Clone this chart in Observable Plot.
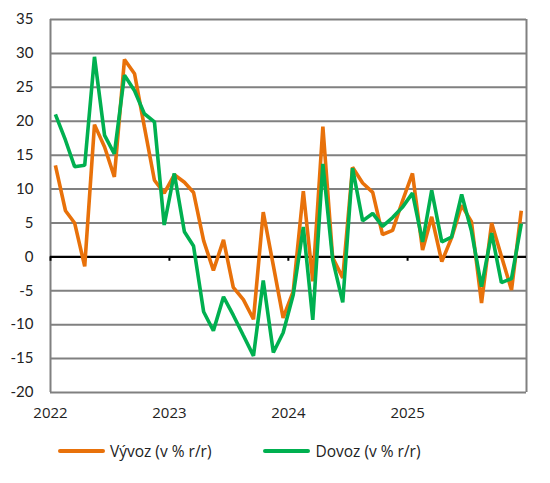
<!DOCTYPE html>
<html>
<head>
<meta charset="utf-8">
<script src="https://cdn.jsdelivr.net/npm/d3@7"></script>
<script src="https://cdn.jsdelivr.net/npm/@observablehq/plot@0.6"></script>
<style>
  body { margin: 0; background: #fff; }
  #chart { width: 550px; }
  .legend {
    display: flex; align-items: center; height: 42px;
    font-family: 'Open Sans', sans-serif; font-size: 15.5px; color: #222;
    padding-left: 58px;
  }
  .item { display: flex; align-items: center; margin-right: 52px; }
  .sw { width: 47px; height: 4px; border-radius: 2px; margin-right: 5px; }
</style>
</head>
<body>
<div id="chart"></div>
<script>
  /* ---- data (monthly, Jan 2022 – Dec 2025) ---- */
  const years = [2022, 2023, 2024, 2025];
  const seriesNames = ['Vývoz (v % r/r)', 'Dovoz (v % r/r)'];
  const seriesColors = ['#e8710a', '#00b050'];

  const vyvoz = [
    13.5, 6.8, 5.0, -1.4, 19.5, 16.2, 11.8, 29.1, 27.0, 19.2, 11.3, 9.4,
    12.1, 11.0, 9.5, 2.4, -2.0, 2.5, -4.5, -6.3, -9.2, 6.6, -1.3, -9.0,
    -5.1, 9.7, -3.6, 19.2, -0.1, -3.1, 13.2, 10.9, 9.5, 3.3, 3.9, 8.2,
    12.3, 1.0, 5.9, -0.7, 2.8, 7.6, 5.2, -6.8, 5.0, 0.1, -4.9, 6.8
  ];
  const dovoz = [
    21.0, 17.2, 13.3, 13.5, 29.5, 17.9, 15.2, 26.8, 24.5, 21.1, 19.9, 4.7,
    12.3, 3.7, 1.6, -8.1, -10.9, -5.9, -8.6, -11.6, -14.6, -3.5, -14.1, -11.2,
    -5.6, 4.4, -9.3, 13.7, -0.4, -6.7, 13.1, 5.3, 6.4, 4.5, 5.8, 7.3,
    9.4, 2.2, 9.8, 2.2, 2.9, 9.2, 3.8, -4.4, 3.5, -3.8, -3.2, 4.9
  ];
  const yTicks = [-20, -15, -10, -5, 0, 5, 10, 15, 20, 25, 30, 35];

  /* ---- build table ---- */
  const month = i => new Date(Date.UTC(years[0], i, 16));
  const rows = [];
  vyvoz.forEach((v, i) => rows.push({ date: month(i), value: v, series: seriesNames[0] }));
  dovoz.forEach((v, i) => rows.push({ date: month(i), value: v, series: seriesNames[1] }));

  const xStart = new Date(Date.UTC(years[0], 0, 1));
  const xEnd = new Date(Date.UTC(years[years.length - 1] + 1, 0, 1));
  const yearTicks = years.map(y => new Date(Date.UTC(y, 0, 1)));

  const chart = Plot.plot({
    width: 550,
    height: 430,
    marginLeft: 50,
    marginRight: 24,
    marginTop: 19,
    marginBottom: 38,
    style: { background: 'transparent', color: '#222', fontFamily: "'Open Sans', sans-serif" },
    x: { type: 'utc', domain: [xStart, xEnd], label: null },
    y: { domain: [-20, 35], label: null },
    color: { domain: seriesNames, range: seriesColors },
    marks: [
      Plot.ruleY(yTicks.filter(v => v !== 0), { stroke: '#808080', strokeWidth: 2 }),
      Plot.ruleX([xStart, xEnd], { stroke: '#808080', strokeWidth: 2 }),
      Plot.ruleY([0], { stroke: '#000', strokeWidth: 2.2 }),
      Plot.ruleX(yearTicks, { y1: 0, y2: -0.65, stroke: '#000', strokeWidth: 2 }),
      Plot.line(rows, {
        x: 'date', y: 'value', z: 'series', stroke: 'series',
        strokeWidth: 3.6, strokeLinejoin: 'miter', strokeLinecap: 'butt'
      }),
      Plot.axisY(yTicks, {
        tickSize: 0, tickPadding: 17, tickFormat: d => String(d), label: null,
        fontSize: 15, fontFamily: "Lato, sans-serif", fill: '#222'
      }),
      Plot.axisX(yearTicks, {
        tickSize: 0, tickPadding: 15, tickFormat: d => String(d.getUTCFullYear()),
        fontSize: 15, fill: '#222', label: null
      })
    ]
  });

  const root = document.getElementById('chart');
  root.appendChild(chart);

  const legend = document.createElement('div');
  legend.className = 'legend';
  seriesNames.forEach((name, k) => {
    const item = document.createElement('div');
    item.className = 'item';
    item.innerHTML = `<span class="sw" style="background:${seriesColors[k]}"></span><span>${name}</span>`;
    legend.appendChild(item);
  });
  root.appendChild(legend);
</script>
</body>
</html>
